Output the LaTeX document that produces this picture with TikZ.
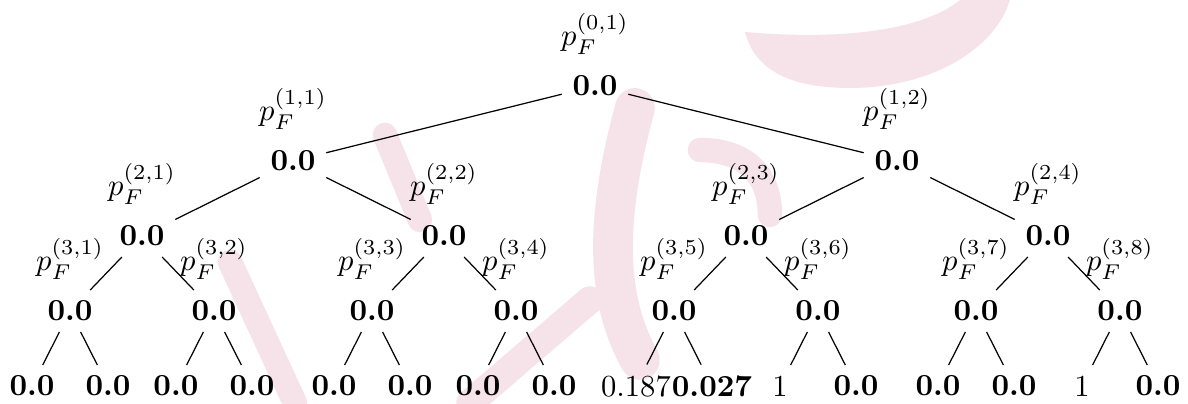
\documentclass[tikz,border=0pt]{standalone}
\usepackage{amsmath,amssymb}
\usepackage{xcolor}
\usepackage{tikz}
\usetikzlibrary{positioning,backgrounds}
\definecolor{wmPink}{HTML}{F5E3E9}

\tikzset{
  val/.style={font=\bfseries},
  wm/.style={draw=wmPink, line cap=round},
}

\begin{document}
\begin{tikzpicture}
        \useasboundingbox (-6.837,-3.643) rectangle (6.814,0.988);

        % levels 0 to 2
        \node[val, label=above:{$p_F^{(0,1)}$}] (r)  at (0,0)            {0.0};
        \node[val, label=above:{$p_F^{(1,1)}$}] (a1) at (-3.470,-0.862)  {0.0};
        \node[val, label=above:{$p_F^{(1,2)}$}] (a2) at (3.470,-0.862)   {0.0};
        \node[val, label=above:{$p_F^{(2,1)}$}] (b1) at (-5.205,-1.724)  {0.0};
        \node[val, label=above:{$p_F^{(2,2)}$}] (b2) at (-1.735,-1.724)  {0.0};
        \node[val, label=above:{$p_F^{(2,3)}$}] (b3) at (1.735,-1.724)   {0.0};
        \node[val, label=above:{$p_F^{(2,4)}$}] (b4) at (5.205,-1.724)   {0.0};

        % level 3
        \foreach \x [count=\i] in {-6.032,-4.378,-2.562,-0.908,0.908,2.562,4.378,6.032}
            \node[val, label=above:{$p_F^{(3,\i)}$}] (c\i) at (\x,-2.586) {0.0};

        % leaves
        \foreach \x/\t [count=\i] in {-6.469/\textbf{0.0}, -5.596/\textbf{0.0},
                -4.815/\textbf{0.0}, -3.941/\textbf{0.0}, -2.999/\textbf{0.0},
                -2.126/\textbf{0.0}, -1.344/\textbf{0.0}, -0.471/\textbf{0.0},
                0.471/0.187, 1.344/\textbf{0.027}, 2.126/1, 2.999/\textbf{0.0},
                3.941/\textbf{0.0}, 4.815/\textbf{0.0}, 5.596/1, 6.469/\textbf{0.0}}
            \node (d\i) at (\x,-3.448) {\t};

        \draw (r) -- (a1);
        \draw (r) -- (a2);
        \foreach \p/\c in {a1/b1, a1/b2, a2/b3, a2/b4,
                b1/c1, b1/c2, b2/c3, b2/c4, b3/c5, b3/c6, b4/c7, b4/c8}
            \draw (\p) -- (\c);
        \foreach \i in {1,...,8} {
            \pgfmathtruncatemacro\lft{2*\i-1}
            \pgfmathtruncatemacro\rgt{2*\i}
            \draw (c\i) -- (d\lft);
            \draw (c\i) -- (d\rgt);
        }

        % watermark
        \begin{scope}[on background layer, x=0.01149cm, y=-0.01149cm, shift={(-6.837cm,0.988cm)}]
            \fill[wmPink] (745,32) .. controls (755,70) and (790,88) .. (850,88)
                .. controls (930,88) and (995,50) .. (1010,0) -- (960,0)
                .. controls (930,25) and (860,42) .. (745,32) -- cycle;
            \draw[wm, line width=13pt] (635,108) .. controls (610,200) and (600,290) .. (640,360);
            \draw[wm, line width=8pt] (700,150) .. controls (740,150) and (770,170) .. (770,215);
            \draw[wm, line width=8pt] (230,262) -- (295,403);
            \draw[wm, line width=8pt] (385,135) -- (420,220);
            \draw[wm, line width=9pt] (470,403) -- (590,300);
        \end{scope}
\end{tikzpicture}
\end{document}
